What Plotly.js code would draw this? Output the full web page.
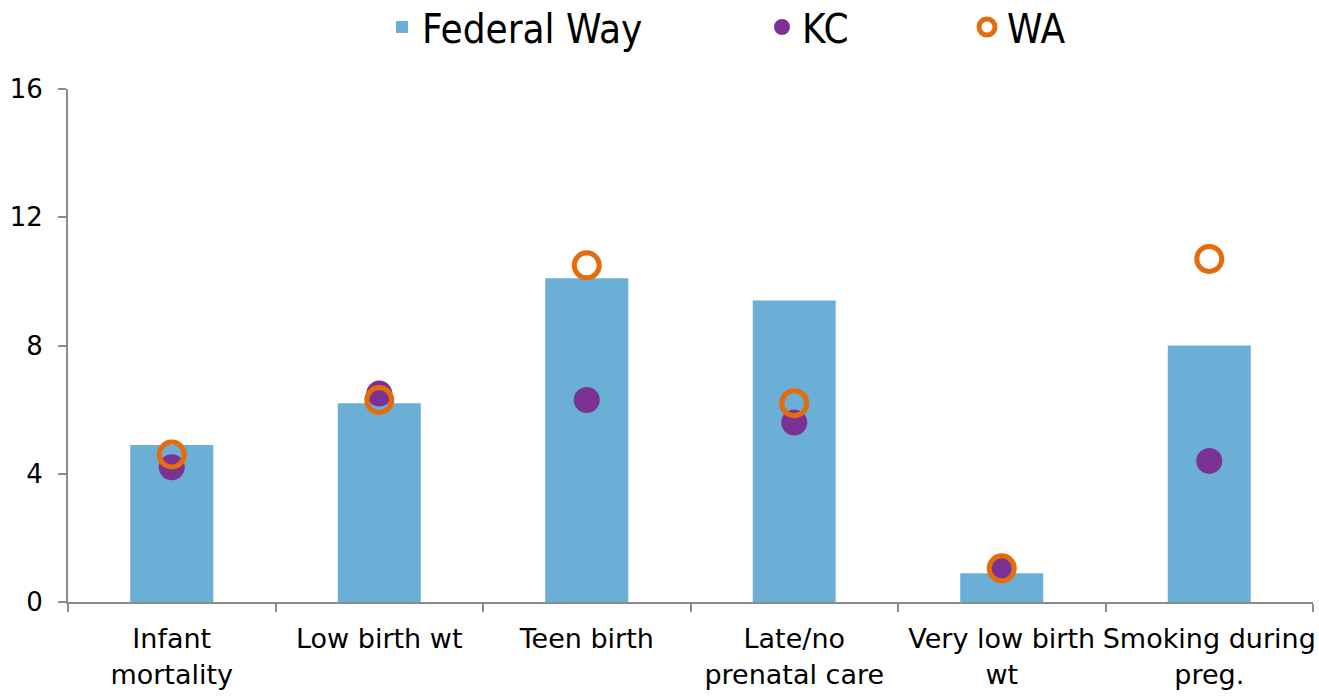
<!DOCTYPE html>
<html>
<head>
<meta charset="utf-8">
<script src="https://cdn.plot.ly/plotly-3.0.1.min.js"></script>
<style>html,body{margin:0;padding:0;background:#fff}#chart{width:1319px;height:696px}</style>
</head>
<body>
<div id="chart"></div>
<script>
const categories = ["Infant<br>mortality", "Low birth wt", "Teen birth", "Late/no<br>prenatal care", "Very low birth<br>wt", "Smoking during<br>preg."];
const federalWay = [4.9, 6.2, 10.1, 9.4, 0.9, 8.0];
const kc = [4.2, 6.5, 6.3, 5.6, 1.0, 4.4];
const wa = [4.6, 6.3, 10.5, 6.2, 1.05, 10.7];
const yTicks = [0, 4, 8, 12, 16];

const FONT = "DejaVu Sans, Verdana, sans-serif";
const LEGFONT = "DejaVu Sans Condensed, DejaVu Sans, sans-serif";

const traces = [
  {type: "bar", name: "Federal Way", x: categories, y: federalWay, width: 0.4,
   marker: {color: "#6BAED6"}, legend: "legend", hoverinfo: "x+y"},
  {type: "scatter", mode: "markers", name: "KC", x: categories, y: kc,
   marker: {color: "#7B3294", size: 26, symbol: "circle"}, legend: "legend2"},
  {type: "scatter", mode: "markers", name: "WA", x: categories, y: wa,
   marker: {color: "rgba(0,0,0,0)", size: 25, symbol: "circle", line: {color: "#E46C0A", width: 5}}, legend: "legend3"}
];

const legBase = {orientation: "h", yref: "container", xref: "container", yanchor: "middle", y: 1 - 27 / 696, xanchor: "left",
  font: {family: LEGFONT, size: 40, color: "#000"}, bgcolor: "rgba(0,0,0,0)", borderwidth: 0};

const layout = {
  width: 1319, height: 696,
  margin: {l: 68, r: 6, t: 89, b: 94},
  paper_bgcolor: "#fff", plot_bgcolor: "#fff",
  showlegend: true,
  legend: Object.assign({}, legBase, {x: 382 / 1319}),
  legend2: Object.assign({}, legBase, {x: 762 / 1319}),
  legend3: Object.assign({}, legBase, {x: 967 / 1319}),
  xaxis: {type: "category", tickson: "boundaries", ticks: "outside", ticklen: 8, tickwidth: 2,
    tickcolor: "#8c8c8c", showline: true, linecolor: "#8c8c8c", linewidth: 2,
    showgrid: false, zeroline: false, range: [-0.5, 5.5], tickangle: 0, automargin: false,
    tickfont: {family: FONT, size: 27, color: "#000"}, ticklabelstandoff: 12, fixedrange: true},
  yaxis: {range: [0, 16], tickvals: yTicks, ticks: "outside", ticklen: 8, tickwidth: 2,
    tickcolor: "#8c8c8c", showline: true, linecolor: "#8c8c8c", linewidth: 2,
    showgrid: false, zeroline: false, automargin: false,
    tickfont: {family: FONT, size: 26, color: "#000"}, ticklabelstandoff: 10, fixedrange: true}
};

Plotly.newPlot("chart", traces, layout, {displayModeBar: false, staticPlot: true});
</script>
</body>
</html>
